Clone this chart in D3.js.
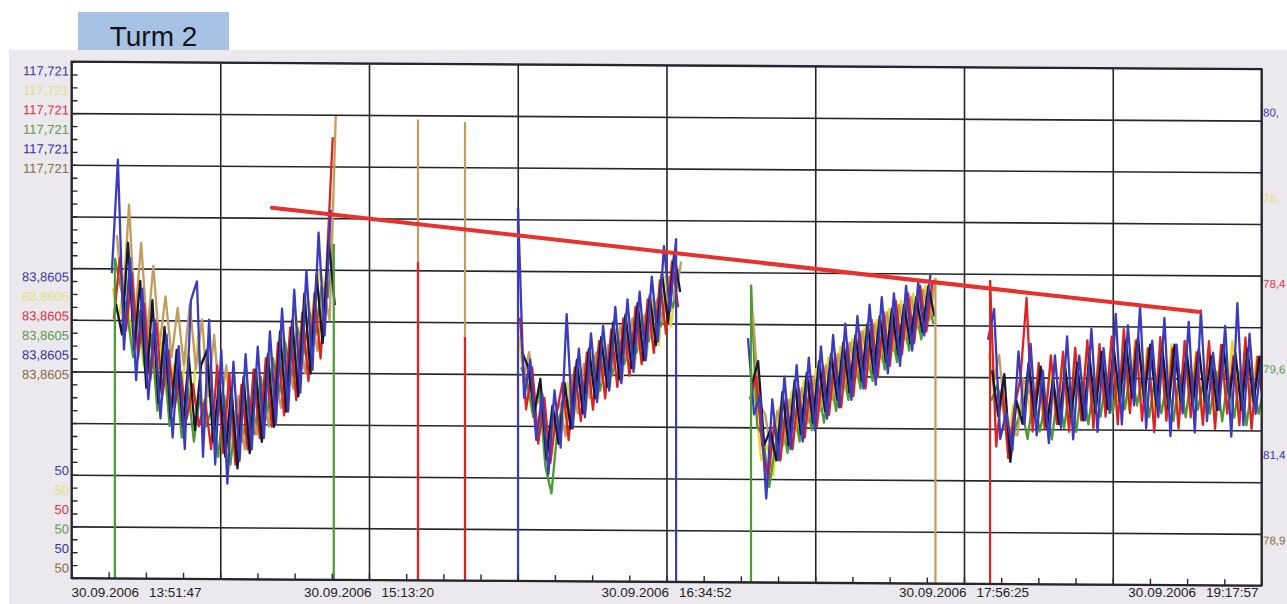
<!DOCTYPE html>
<html>
<head>
<meta charset="utf-8">
<script src="https://cdn.jsdelivr.net/npm/d3@7"></script>
<style>
  html, body { margin: 0; padding: 0; background: #ffffff; overflow: hidden; }
  svg { display: block; font-family: "Liberation Sans", Arial, sans-serif; }
</style>
</head>
<body>
<svg id="chart" width="1287" height="604"></svg>
<script>
// ---------------- data ----------------
const chartTitle = "Turm 2";
const valueMin = 50;
const valueMax = 117.721;
const axisLabelTexts = ["117,721", "83,8605", "50"];          // max / mid / min per channel
const timeStart = "30.09.2006 13:51:47";
const timeEnd = "30.09.2006 19:17:57";
const xTickLabels = [
  "30.09.2006 13:51:47",
  "30.09.2006 15:13:20",
  "30.09.2006 16:34:52",
  "30.09.2006 17:56:25",
  "30.09.2006 19:17:57"
];
const sampleSeconds = 100;                                   // logger interval
const segmentStarts = [
  "30.09.2006 14:02:50",
  "30.09.2006 15:54:10",
  "30.09.2006 16:57:12",
  "30.09.2006 18:03:00"
];

// channel order of the axis labels
const channelNames = ["blue", "yellow", "red", "green", "navy", "brown"];
// the logger scans the channels one after another within each interval
const channelScanSeconds = { blue: 0, yellow: 17, red: 33, green: 50, navy: 67, brown: 83 };

// readings per channel, one array per recording segment
const blueValues = [
  [90.0,104.9,80.0,92.0,76.0,88.0,73.5,84.0,71.0,82.0,68.5,80.5,67.0,86.5,89.0,66.0,84.0,65.0,80.0,62.5,78.5,65.5,79.5,67.0,80.5,68.5,82.5,70.5,85.5,72.0,88.0,74.5,90.5,77.5,95.5,82.0,98.5],
  [98.9,74.0,79.0,68.5,74.5,64.0,75.0,67.5,85.0,70.0,80.5,71.5,82.5,73.5,83.5,75.0,86.0,76.0,87.0,77.5,88.0,79.0,90.0,81.5,94.0,85.5,95.0],
  [82.0,72.0,74.5,61.0,74.0,66.0,77.0,67.5,78.5,68.5,79.5,70.0,81.0,71.5,82.5,73.0,84.0,74.0,85.0,75.5,86.5,76.0,87.5,77.5,88.0,78.5,89.0,80.5,89.5,82.5,90.5],
  [82.0,86.0,69.0,72.5,67.5,80.5,71.0,81.5,69.5,78.0,68.5,80.0,70.5,82.5,69.0,80.0,71.5,83.5,70.0,81.0,72.5,85.5,71.0,84.0,73.5,86.5,70.5,82.0,72.0,85.0,69.5,81.5,72.5,84.5,70.0,86.0,71.5,80.5,73.0,84.0,69.5,87.0,71.0,83.0,72.5,80.0]
];
const yellowValues = [
  [88.0,84.0,90.0,82.0,87.0,78.0,83.0,75.5,81.0,73.0,78.0,71.5,80.0,72.0,82.0,69.0,78.0,69.5,75.5,64.0,72.0,70.0,76.0,71.0,77.0,73.0,80.0,75.5,82.5,78.0,85.0,80.0,87.0,83.5,90.5,88.0,96.0],
  [82.0,74.5,78.0,70.0,73.0,66.0,72.5,69.5,76.0,71.5,78.0,72.5,80.0,74.0,81.5,75.5,83.0,76.5,84.5,78.0,85.0,79.5,87.0,81.0,90.0,83.5,91.5],
  [80.0,74.0,66.0,68.0,64.0,73.0,68.5,75.0,69.5,76.5,71.0,78.0,72.5,79.5,73.5,81.0,75.0,82.0,76.5,83.5,77.5,84.5,79.0,86.0,80.0,87.0,81.5,88.0,83.0,89.0,85.0],
  [80.0,74.0,75.0,69.0,73.5,72.0,76.5,71.5,77.5,70.5,78.0,72.0,79.0,71.0,78.5,73.0,80.0,72.5,79.5,73.5,81.0,74.0,80.5,73.0,82.0,74.5,81.0,72.5,80.0,74.0,81.5,73.0,79.5,74.5,80.5,72.0,81.0,73.5,80.0,74.0,82.0,72.5,79.5,74.0,80.0,76.0]
];
const redValues = [
  [84.0,92.0,82.5,90.0,79.0,86.0,76.0,83.5,74.0,80.0,72.5,77.0,71.0,75.5,70.0,73.5,67.0,78.0,66.5,77.0,65.0,75.5,67.0,77.5,68.5,79.0,70.0,81.0,71.5,83.0,73.5,85.0,76.0,87.5,79.0,91.0,108.0],
  [84.5,72.5,78.0,68.0,74.0,65.5,72.0,76.0,68.5,78.0,71.0,80.0,72.5,81.5,74.0,83.0,75.5,84.5,77.0,86.0,78.5,87.0,80.0,89.5,82.5,92.0,86.0],
  [74.0,77.0,68.0,63.5,71.0,66.0,74.0,67.5,75.5,69.0,77.0,70.5,78.5,72.0,80.0,73.0,81.5,74.5,83.0,75.5,84.5,77.0,85.5,78.5,87.0,80.0,88.0,81.5,89.0,83.0,89.5],
  [89.8,68.0,76.0,66.5,73.0,77.0,87.5,70.0,79.0,70.5,80.0,71.0,80.5,70.0,81.0,71.5,82.0,70.5,81.5,72.0,82.5,71.0,83.5,72.5,82.0,71.5,81.0,70.0,82.5,71.5,81.0,70.5,82.0,72.0,80.5,71.0,82.0,70.5,81.5,72.5,80.0,71.0,82.5,70.5,80.0,73.0]
];
const greenValues = [
  [92.0,88.0,85.0,79.0,85.0,77.0,82.0,72.0,80.0,70.0,77.5,68.5,75.0,68.0,74.0,70.0,72.5,66.0,74.0,65.0,71.5,68.0,74.0,69.0,76.5,71.0,79.0,74.0,81.0,76.0,83.0,79.5,85.0,82.0,88.5,87.0,94.0],
  [78.0,76.0,71.5,75.0,65.0,61.5,70.0,74.0,72.0,77.0,74.5,76.0,79.5,75.0,80.0,77.0,82.0,78.5,83.0,80.0,84.5,81.5,86.0,83.5,88.0,86.0,91.0],
  [89.0,70.5,69.0,62.5,68.0,72.0,67.0,73.0,68.5,74.5,70.0,76.0,71.0,77.5,72.5,79.0,74.0,80.0,75.5,81.0,76.5,82.5,78.0,84.0,79.0,85.0,80.5,86.5,82.0,87.5,84.0],
  [74.0,76.0,73.0,67.0,70.5,73.0,69.0,75.0,70.0,74.0,69.0,75.5,70.5,76.0,70.0,76.5,71.0,77.0,72.0,77.5,72.5,78.0,73.0,78.5,73.5,78.0,72.0,77.5,72.5,77.0,71.5,77.5,72.0,78.0,73.0,77.0,72.5,78.0,71.5,77.5,72.0,78.0,71.0,77.0,72.5,76.5]
];
const navyValues = [
  [86.0,82.0,94.0,80.0,89.0,75.0,86.5,73.0,83.0,71.0,80.0,70.0,79.0,69.5,78.0,80.0,68.0,76.0,66.0,75.0,64.5,76.5,66.5,77.5,68.0,79.5,70.0,82.5,72.0,84.0,74.0,87.5,77.0,90.0,81.0,94.5,86.0],
  [80.0,78.0,72.0,76.5,66.0,73.0,68.0,76.0,70.0,79.0,72.0,80.5,74.0,82.0,75.5,84.0,76.5,85.0,78.0,86.5,79.0,87.5,81.0,90.5,84.0,93.0,88.0],
  [76.0,79.0,68.0,70.0,66.0,75.0,68.0,76.5,69.5,77.5,71.0,79.0,72.5,80.0,74.0,81.5,75.0,82.5,76.5,84.0,77.5,85.0,79.0,86.0,80.0,86.5,81.5,87.5,83.0,89.0,85.0],
  [78.0,72.0,77.5,66.0,74.0,71.0,79.0,72.0,78.5,70.5,77.0,71.0,78.5,72.0,79.0,71.5,80.0,72.5,80.5,73.0,81.0,74.0,82.0,74.5,82.5,74.0,81.5,73.5,81.0,73.0,81.5,74.0,80.5,73.5,81.0,74.0,80.0,73.0,81.5,74.5,80.5,73.0,81.0,74.0,80.0,75.0]
];
const brownValues = [
  [95.0,86.0,99.0,84.0,94.0,82.0,91.0,80.5,87.0,79.0,85.5,78.0,86.0,77.5,84.0,74.0,82.0,72.0,78.0,68.5,74.0,67.0,73.0,69.0,75.0,70.0,77.0,72.5,79.0,75.0,82.0,77.0,84.5,80.0,88.0,84.0,110.8],
  [76.0,80.0,74.0,73.0,69.0,70.5,73.5,69.0,77.0,72.0,78.5,74.0,80.0,76.0,81.0,78.0,83.5,79.0,84.5,80.5,85.0,82.0,87.0,84.0,90.0,87.0,92.0],
  [85.0,73.5,72.0,67.0,72.5,68.0,74.0,70.0,75.5,71.0,77.0,72.5,78.5,74.0,80.0,75.5,81.5,77.0,83.0,78.0,84.0,79.5,85.5,80.5,86.5,82.0,87.5,83.5,88.5,84.5,90.0],
  [76.0,80.0,71.5,70.0,69.5,77.0,75.0,74.5,76.0,73.0,75.5,73.5,76.5,74.0,77.0,74.5,77.5,75.0,78.0,75.5,78.5,76.5,79.5,77.0,80.0,76.5,79.0,76.0,78.5,75.5,79.0,76.0,78.0,75.0,78.5,76.0,79.0,75.5,78.0,76.0,79.0,75.0,78.5,75.5,77.5,76.0]
];

// single readings between the recording segments
const brownSpikes = [
  { time: "30.09.2006 15:26:45", value: 110.4 },
  { time: "30.09.2006 15:39:38", value: 110.1 }
];
const redSpikes = [
  { time: "30.09.2006 15:26:45", value: 91.7 },
  { time: "30.09.2006 15:39:38", value: 81.9 }
];

// channel whose jump from / to the floor is visible at each segment edge
const segmentEdgeChannels = [
  ["green", "green"],
  ["blue", "blue"],
  ["green", "brown"],
  ["red", null]
];

// cursor read-outs on the right side
const rightAxisLabels = ["80,", "78,", "78,4", "79,6", "81,4", "78,9"];

// hand-drawn trend line
const trendLine = [
  { time: "30.09.2006 14:46:44", value: 98.7 },
  { time: "30.09.2006 19:01:06", value: 85.8 }
];

// ---------------- styles ----------------
const lineColors = {
  blue: "#3b3bc2", yellow: "#e6da2e", red: "#dc2222",
  green: "#4c9a32", navy: "#17172a", brown: "#c49c5c"
};
const labelColors = {
  blue: "#3c3ca6", yellow: "#e4de80", red: "#de3448",
  green: "#64984c", navy: "#3434a8", brown: "#8c6c3c"
};
const drawOrder = ["yellow", "green", "brown", "red", "navy", "blue"];
const valuesByChannel = {
  blue: blueValues, yellow: yellowValues, red: redValues,
  green: greenValues, navy: navyValues, brown: brownValues
};

// ---------------- layout ----------------
const W = 1287, H = 604;
const plot = { left: 71.5, right: 1261.5, top: 61.5, bottom: 578 };
const shear = 0.0063;   // the sheet is slightly sheared: right side sits lower

const parse = d3.timeParse("%d.%m.%Y %H:%M:%S");
const t0 = parse(timeStart), t1 = parse(timeEnd);

const x = d3.scaleTime().domain([t0, t1]).range([plot.left, plot.right]);
const y = d3.scaleLinear().domain([valueMin, valueMax]).range([plot.bottom, plot.top]);

const svg = d3.select("#chart");

// grey panel behind the chart
svg.append("rect")
  .attr("x", 9).attr("y", 50).attr("width", W - 9).attr("height", H - 50)
  .attr("fill", "#ebe9ee");

// title tab
svg.append("rect")
  .attr("x", 78).attr("y", 12).attr("width", 151).attr("height", 38)
  .attr("fill", "#a8c2e6");
svg.append("text")
  .attr("x", 153.5).attr("y", 46)
  .attr("text-anchor", "middle")
  .attr("font-size", 28)
  .attr("fill", "#141414")
  .text(chartTitle);

const g = svg.append("g")
  .attr("transform", `matrix(1,${shear},0,1,0,${-shear * plot.left})`);

g.append("rect")
  .attr("x", plot.left).attr("y", plot.top)
  .attr("width", plot.right - plot.left).attr("height", plot.bottom - plot.top)
  .attr("fill", "#ffffff");

// grid: 8 time divisions, 10 value divisions
const span = +t1 - +t0;
const xGrid = d3.range(9).map(i => new Date(+t0 + i * span / 8));
const xMinor = d3.range(33).map(i => new Date(+t0 + i * span / 32));
const yGrid = d3.range(11).map(i => valueMin + i * (valueMax - valueMin) / 10);
const yMinor = d3.range(41).map(i => valueMin + i * (valueMax - valueMin) / 40);

const gridColor = "#26262c";

const xGridAxis = g.append("g")
  .attr("transform", `translate(0,${plot.bottom})`)
  .call(d3.axisBottom(x).tickValues(xGrid).tickSize(-(plot.bottom - plot.top)).tickFormat(""));
const yGridAxis = g.append("g")
  .attr("transform", `translate(${plot.left},0)`)
  .call(d3.axisLeft(y).tickValues(yGrid).tickSize(-(plot.right - plot.left)).tickFormat(""));
[xGridAxis, yGridAxis].forEach(a => {
  a.select(".domain").remove();
  a.selectAll("line").attr("stroke", gridColor).attr("stroke-width", 1.6);
});

// clip for data
g.append("clipPath").attr("id", "plotClip")
  .append("rect")
  .attr("x", plot.left).attr("y", plot.top - 2)
  .attr("width", plot.right - plot.left).attr("height", plot.bottom - plot.top + 2);

const dataLayer = g.append("g").attr("clip-path", "url(#plotClip)");

const line = d3.line().x(d => x(d.t)).y(d => y(d.v));

function segmentPoints(name, k) {
  const start = +parse(segmentStarts[k]) + channelScanSeconds[name] * 1000;
  return valuesByChannel[name][k].map((v, i) => ({ t: new Date(start + i * sampleSeconds * 1000), v }));
}

drawOrder.forEach(name => {
  valuesByChannel[name].forEach((vals, k) => {
    dataLayer.append("path")
      .datum(segmentPoints(name, k))
      .attr("d", line)
      .attr("fill", "none")
      .attr("stroke", lineColors[name])
      .attr("stroke-width", 2.3)
      .attr("stroke-linejoin", "round");
  });
});

// isolated readings between segments
function drawSpikes(list, name) {
  list.forEach(s => {
    const t = parse(s.time);
    dataLayer.append("path")
      .datum([{ t, v: valueMin }, { t, v: s.value }])
      .attr("d", line)
      .attr("stroke", lineColors[name])
      .attr("stroke-width", 2.2);
  });
}
drawSpikes(brownSpikes, "brown");
drawSpikes(redSpikes, "red");

// jumps to and from the floor at the segment edges
segmentEdgeChannels.forEach(([startName, endName], k) => {
  if (startName) {
    const first = segmentPoints(startName, k)[0];
    dataLayer.append("path")
      .datum([{ t: first.t, v: valueMin }, first])
      .attr("d", line)
      .attr("stroke", lineColors[startName]).attr("stroke-width", 2.2);
  }
  if (endName) {
    const pts = segmentPoints(endName, k);
    const last = pts[pts.length - 1];
    dataLayer.append("path")
      .datum([last, { t: last.t, v: valueMin }])
      .attr("d", line)
      .attr("stroke", lineColors[endName]).attr("stroke-width", 2.2);
  }
});

// minor ticks pointing into the plot
const xTickAxis = g.append("g")
  .attr("transform", `translate(0,${plot.bottom})`)
  .call(d3.axisBottom(x).tickValues(xMinor).tickSize(-6).tickFormat(""));
const yTickAxis = g.append("g")
  .attr("transform", `translate(${plot.left},0)`)
  .call(d3.axisLeft(y).tickValues(yMinor).tickSize(-6).tickFormat(""));
[xTickAxis, yTickAxis].forEach(a => {
  a.select(".domain").remove();
  a.selectAll("line").attr("stroke", gridColor).attr("stroke-width", 1.4);
});

// frame
g.append("rect")
  .attr("x", plot.left).attr("y", plot.top)
  .attr("width", plot.right - plot.left).attr("height", plot.bottom - plot.top)
  .attr("fill", "none").attr("stroke", gridColor).attr("stroke-width", 2);

// trend line
g.append("path")
  .datum(trendLine.map(d => ({ t: parse(d.time), v: d.value })))
  .attr("d", line)
  .attr("fill", "none")
  .attr("stroke", "#e8302c")
  .attr("stroke-width", 4)
  .attr("stroke-linecap", "round");

// stacked channel labels on the left: max, mid, min
const stackFirst = [71, 277, 470.5];
const stackStep = 19.5;
axisLabelTexts.forEach((txt, s) => {
  channelNames.forEach((name, i) => {
    g.append("text")
      .attr("x", 69)
      .attr("y", stackFirst[s] + i * stackStep)
      .attr("dy", "0.35em")
      .attr("text-anchor", "end")
      .attr("font-size", 13)
      .attr("fill", labelColors[name])
      .text(txt);
  });
});

// right side read-outs
rightAxisLabels.forEach((txt, i) => {
  g.append("text")
    .attr("x", plot.right + 1.5)
    .attr("y", 105 + i * 85.6)
    .attr("dy", "0.35em")
    .attr("font-size", 11.5)
    .attr("fill", labelColors[channelNames[i]])
    .text(txt);
});

// time labels below the frame (kept level so the last one stays on the sheet)
xTickLabels.forEach((lbl, i) => {
  const [datePart, timePart] = lbl.split(" ");
  const t = parse(lbl);
  const anchor = i === 0 ? "start" : (i === xTickLabels.length - 1 ? "end" : "middle");
  const px = i === 0 ? plot.left : (i === xTickLabels.length - 1 ? plot.right - 3 : x(t));
  const txt = svg.append("text")
    .attr("x", px)
    .attr("y", 597)
    .attr("text-anchor", anchor)
    .attr("font-size", 13.5)
    .attr("fill", "#222222");
  txt.append("tspan").text(datePart);
  txt.append("tspan").attr("dx", 10).text(timePart);
});
</script>
</body>
</html>
